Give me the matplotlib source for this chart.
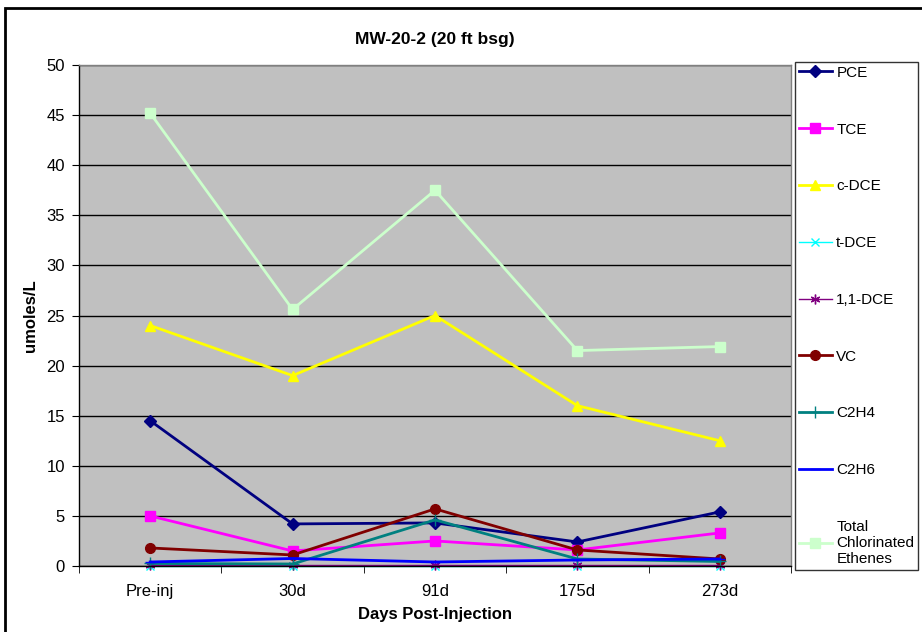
import matplotlib
matplotlib.use("Agg")
import matplotlib.pyplot as plt
from matplotlib.patches import Rectangle

plt.rcParams['font.family'] = ['Liberation Sans', 'DejaVu Sans']

categories = ["Pre-inj", "30d", "91d", "175d", "273d"]
pce = [14.5, 4.2, 4.3, 2.4, 5.4]
tce = [5.0, 1.5, 2.5, 1.6, 3.3]
cdce = [24.0, 19.0, 25.0, 16.0, 12.5]
tdce = [0.0, 0.0, 0.0, 0.0, 0.0]
dce11 = [0.05, 0.05, 0.05, 0.05, 0.05]
vc = [1.8, 1.1, 5.7, 1.6, 0.7]
c2h4 = [0.25, 0.2, 4.6, 0.7, 0.45]
c2h6 = [0.4, 0.75, 0.4, 0.6, 0.7]
total = [45.2, 25.6, 37.5, 21.5, 21.9]

series = [
    ("PCE", pce, "#000080", "D", 6, 2.0),
    ("TCE", tce, "#FF00FF", "s", 7, 2.0),
    ("c-DCE", cdce, "#FFFF00", "^", 7, 2.0),
    ("t-DCE", tdce, "#00FFFF", "x", 6, 1.0),
    ("1,1-DCE", dce11, "#800080", (6, 2, 0), 7, 1.0),
    ("VC", vc, "#800000", "o", 7, 2.0),
    ("C2H4", c2h4, "#008080", "+", 8, 2.0),
    ("C2H6", c2h6, "#0000FF", "_", 7, 2.0),
    ("Total\nChlorinated\nEthenes", total, "#CCFFCC", "s", 7, 2.0),
]

fig = plt.figure(figsize=(9.22, 6.32), dpi=100)
fig.patch.set_facecolor("white")
ax = fig.add_axes([79/922, 1-566/632, (791-79)/922, (566-65)/632])
ax.set_facecolor("#C0C0C0")

x = list(range(len(categories)))
for label, vals, color, marker, ms, lw in series:
    ax.plot(x, vals, color=color, marker=marker, markersize=ms, linewidth=lw,
            markeredgecolor=color, markerfacecolor=color, label=label, clip_on=False)

ax.set_xlim(-0.5, 4.5)
ax.set_ylim(0, 50)
ax.set_yticks(range(0, 51, 5))
ax.yaxis.grid(True, color="black", linewidth=1)
ax.set_axisbelow(True)
ax.set_xticks(x)
ax.set_xticklabels(categories, fontsize=12)
ax.set_xticks([i + 0.5 for i in range(-1, 5)], minor=True)
ax.tick_params(axis='x', which='major', length=0, pad=13)
ax.tick_params(axis='x', which='minor', length=5, direction='out')
ax.tick_params(axis='y', labelsize=12, length=5, direction='out', pad=5)
for sp in ax.spines.values():
    sp.set_color("black")
    sp.set_linewidth(1)
ax.spines['top'].set_color("#808080")
ax.spines['right'].set_color("#808080")

ax.set_title("MW-20-2 (20 ft bsg)", fontsize=12.5, fontweight="bold", pad=15)
ax.set_xlabel("Days Post-Injection", fontsize=12, fontweight="bold", labelpad=6)
ax.set_ylabel("umoles/L", fontsize=12, fontweight="bold", labelpad=6)

leg = fig.legend(loc="upper left", bbox_to_anchor=(795/922, 1-62/632),
                 borderaxespad=0, frameon=True, fancybox=False, fontsize=11,
                 labelspacing=2.8, handlelength=2.15, handletextpad=0.3,
                 borderpad=0.25)
leg.get_frame().set_edgecolor("black")
leg.get_frame().set_linewidth(1)

fig.add_artist(Rectangle((5/922, -0.1), 1.2, 1 - 8/632 + 0.1, transform=fig.transFigure,
                         fill=False, edgecolor="black", linewidth=2))

fig.savefig("out.png", dpi=100)
